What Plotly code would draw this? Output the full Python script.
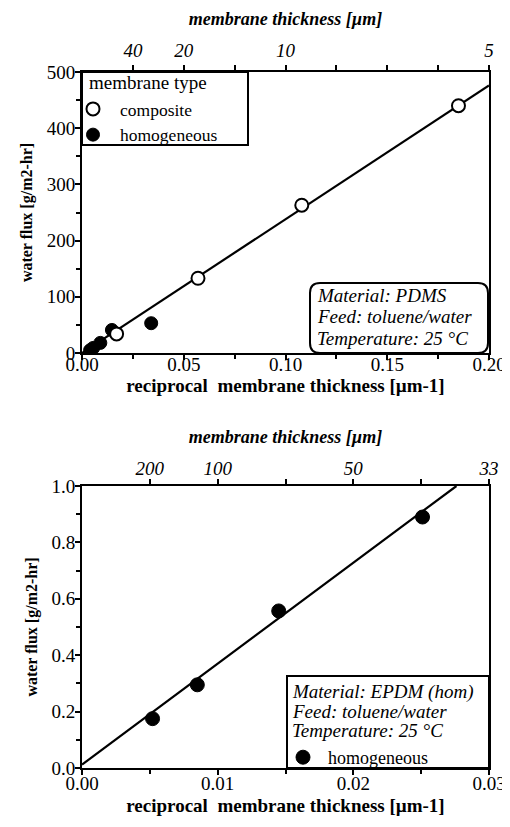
import plotly.graph_objects as go

# ---------------- data ----------------
# top panel (PDMS)
comp_x = [0.017, 0.057, 0.108, 0.185]
comp_y = [34, 133, 263, 440]
hom_x = [0.004, 0.0055, 0.009, 0.0147, 0.034]
hom_y = [5, 9, 18, 41, 53]
fit1_x = [0.0, 0.2]
fit1_y = [0.0, 476]
top1_tickvals = [0.025, 0.05, 0.075, 0.1, 0.125, 0.15, 0.175, 0.2]
top1_ticktext = ["40", "20", "", "10", "", "", "", "5"]

# bottom panel (EPDM)
epdm_x = [0.0052, 0.0085, 0.0145, 0.0251]
epdm_y = [0.175, 0.295, 0.557, 0.89]
fit2_x = [0.0, 0.0276]
fit2_y = [0.012, 1.0]
top2_tickvals = [0.005, 0.01, 0.015, 0.02, 0.025, 0.03]
top2_ticktext = ["200", "100", "", "50", "", "33"]

info1 = ["Material: PDMS", "Feed: toluene/water", "Temperature: 25 °C"]
info2 = ["Material: EPDM (hom)", "Feed: toluene/water", "Temperature: 25 °C"]

FONT = "Times New Roman, Liberation Serif, Tinos, serif"
OFF = 8           # page body margin
W, H = 502, 811

def px_x(p):
    return (p - OFF) / W

def px_y(p):
    return 1 - (p - OFF) / H

fig = go.Figure()

mk_open = dict(symbol="circle", size=13, color="white", line=dict(color="black", width=2))
mk_fill = dict(symbol="circle", size=13, color="black", line=dict(color="black", width=1))
mk_fill2 = dict(symbol="circle", size=14, color="black", line=dict(color="black", width=1))

# top panel traces
fig.add_trace(go.Scatter(x=fit1_x, y=fit1_y, mode="lines", line=dict(color="black", width=2.2),
                         showlegend=False, xaxis="x", yaxis="y", hoverinfo="skip"))
fig.add_trace(go.Scatter(x=hom_x, y=hom_y, mode="markers", marker=mk_fill, name="homogeneous",
                         legend="legend", legendrank=2, xaxis="x", yaxis="y"))
fig.add_trace(go.Scatter(x=comp_x, y=comp_y, mode="markers", marker=mk_open, name="composite",
                         legend="legend", legendrank=1, xaxis="x", yaxis="y"))
fig.add_trace(go.Scatter(x=[None], y=[None], xaxis="x2", yaxis="y", showlegend=False))

# bottom panel traces
fig.add_trace(go.Scatter(x=fit2_x, y=fit2_y, mode="lines", line=dict(color="black", width=2.2),
                         showlegend=False, xaxis="x3", yaxis="y2", hoverinfo="skip"))
fig.add_trace(go.Scatter(x=epdm_x, y=epdm_y, mode="markers", marker=mk_fill2, name="homogeneous",
                         legend="legend2", xaxis="x3", yaxis="y2"))
fig.add_trace(go.Scatter(x=[None], y=[None], xaxis="x4", yaxis="y2", showlegend=False))

xd = [px_x(82), px_x(489)]
d1 = [px_y(353), px_y(72)]
d2 = [px_y(768), px_y(486)]

tickfont = dict(family=FONT, size=19, color="black")
tickfont_it = dict(family=FONT, size=19, color="black", style="italic")
titlefont = dict(family=FONT, size=19, color="black", weight="bold")
ytitlefont = dict(family=FONT, size=16, color="black", weight="bold")
titlefont_it = dict(family=FONT, size=18, color="black", weight="bold", style="italic")

common = dict(showgrid=False, zeroline=False, showline=True, linecolor="black", linewidth=2,
              ticks="outside", ticklen=5, tickwidth=1.5, tickcolor="black", automargin=False)

xtitle = "reciprocal\u00a0 membrane\u00a0thickness\u00a0[µm-1]"

fig.update_layout(
    width=W, height=H, margin=dict(l=0, r=0, t=0, b=0, autoexpand=False),
    paper_bgcolor="white", plot_bgcolor="white",
    font=dict(family=FONT, color="black"),
    xaxis=dict(domain=xd, anchor="y", range=[0, 0.2], tickvals=[0, 0.05, 0.1, 0.15, 0.2],
               ticktext=["0.00", "0.05", "0.10", "0.15", "0.20"], tickfont=tickfont,
               ticklabelstandoff=-12,
               minor=dict(dtick=0.025, ticks="outside", ticklen=4, tickcolor="black"),
               title=dict(text=xtitle, font=titlefont, standoff=0),
               **common),
    xaxis2=dict(overlaying="x", anchor="y", side="top", range=[0, 0.2], tickvals=top1_tickvals,
                ticktext=top1_ticktext, tickfont=tickfont_it,
                title=dict(text="membrane thickness [µm]", font=titlefont_it, standoff=10),
                **common),
    yaxis=dict(domain=d1, anchor="x", range=[0, 500], dtick=100, tickfont=tickfont, mirror=True,
               ticklabelstandoff=-4,
               minor=dict(dtick=50, ticks="outside", ticklen=4, tickcolor="black"),
               title=dict(text="water flux [g/m2-hr]", font=ytitlefont, standoff=10),
               **common),
    xaxis3=dict(domain=xd, anchor="y2", range=[0, 0.03], tickvals=[0, 0.01, 0.02, 0.03],
                ticktext=["0.00", "0.01", "0.02", "0.03"], tickfont=tickfont,
                ticklabelstandoff=-8,
                minor=dict(dtick=0.005, ticks="outside", ticklen=4, tickcolor="black"),
                title=dict(text=xtitle, font=titlefont, standoff=6),
                **common),
    xaxis4=dict(overlaying="x3", anchor="y2", side="top", range=[0, 0.03], tickvals=top2_tickvals,
                ticktext=top2_ticktext, tickfont=tickfont_it,
                ticklabelstandoff=-4,
                title=dict(text="membrane thickness [µm]", font=titlefont_it, standoff=10),
                **common),
    yaxis2=dict(domain=d2, anchor="x3", range=[0, 1.0], dtick=0.2, tickformat=".1f", tickfont=tickfont,
                mirror=True, ticklabelstandoff=-4,
                minor=dict(dtick=0.1, ticks="outside", ticklen=4, tickcolor="black"),
                title=dict(text="water flux [g/m2-hr]", font=ytitlefont, standoff=10),
                **common),
    legend=dict(x=px_x(66), y=px_y(91), xanchor="left", yanchor="top",
                bgcolor="rgba(0,0,0,0)", borderwidth=0, itemwidth=44,
                font=dict(family=FONT, size=17.5), tracegroupgap=0,
                traceorder="normal"),
    legend2=dict(x=px_x(278), y=px_y(739), xanchor="left", yanchor="top",
                 bgcolor="rgba(0,0,0,0)", borderwidth=0, itemwidth=40,
                 font=dict(family=FONT, size=18)),
)

# top legend frame and title
fig.add_shape(type="rect", x0=px_x(82), x1=px_x(248), y0=px_y(145), y1=px_y(72),
              xref="paper", yref="paper", line=dict(color="black", width=2),
              fillcolor="white", layer="below")
fig.add_annotation(x=px_x(87), y=px_y(83), xref="paper", yref="paper", xanchor="left", yanchor="middle",
                   showarrow=False, text="membrane type",
                   font=dict(family=FONT, size=19, color="black"))

# top annotation box (rounded)
x0, x1 = px_x(310), px_x(488)
y0, y1 = px_y(353), px_y(283)
r = 10 / W
ry = 10 / H
path = (f"M {x0+r},{y1} L {x1-r},{y1} Q {x1},{y1} {x1},{y1-ry} L {x1},{y0+ry} "
        f"Q {x1},{y0} {x1-r},{y0} L {x0+r},{y0} Q {x0},{y0} {x0},{y0+ry} "
        f"L {x0},{y1-ry} Q {x0},{y1} {x0+r},{y1} Z")
fig.add_shape(type="path", path=path, xref="paper", yref="paper",
              line=dict(color="black", width=2), fillcolor="white", layer="below")
for i, line in enumerate(info1):
    fig.add_annotation(x=px_x(315), y=px_y(295 + 21.5 * i), xref="paper", yref="paper",
                       xanchor="left", yanchor="middle", showarrow=False,
                       text=f"<i>{line}</i>", font=dict(family=FONT, size=19, color="black"))

# bottom annotation box
fig.add_shape(type="rect", x0=px_x(287), x1=px_x(489), y0=px_y(768), y1=px_y(676),
              xref="paper", yref="paper", line=dict(color="black", width=2),
              fillcolor="white", layer="below")
for i, line in enumerate(info2):
    fig.add_annotation(x=px_x(290), y=px_y(692 + 19 * i), xref="paper", yref="paper",
                       xanchor="left", yanchor="middle", showarrow=False,
                       text=f"<i>{line}</i>", font=dict(family=FONT, size=19, color="black"))

fig.write_html("out.html")
